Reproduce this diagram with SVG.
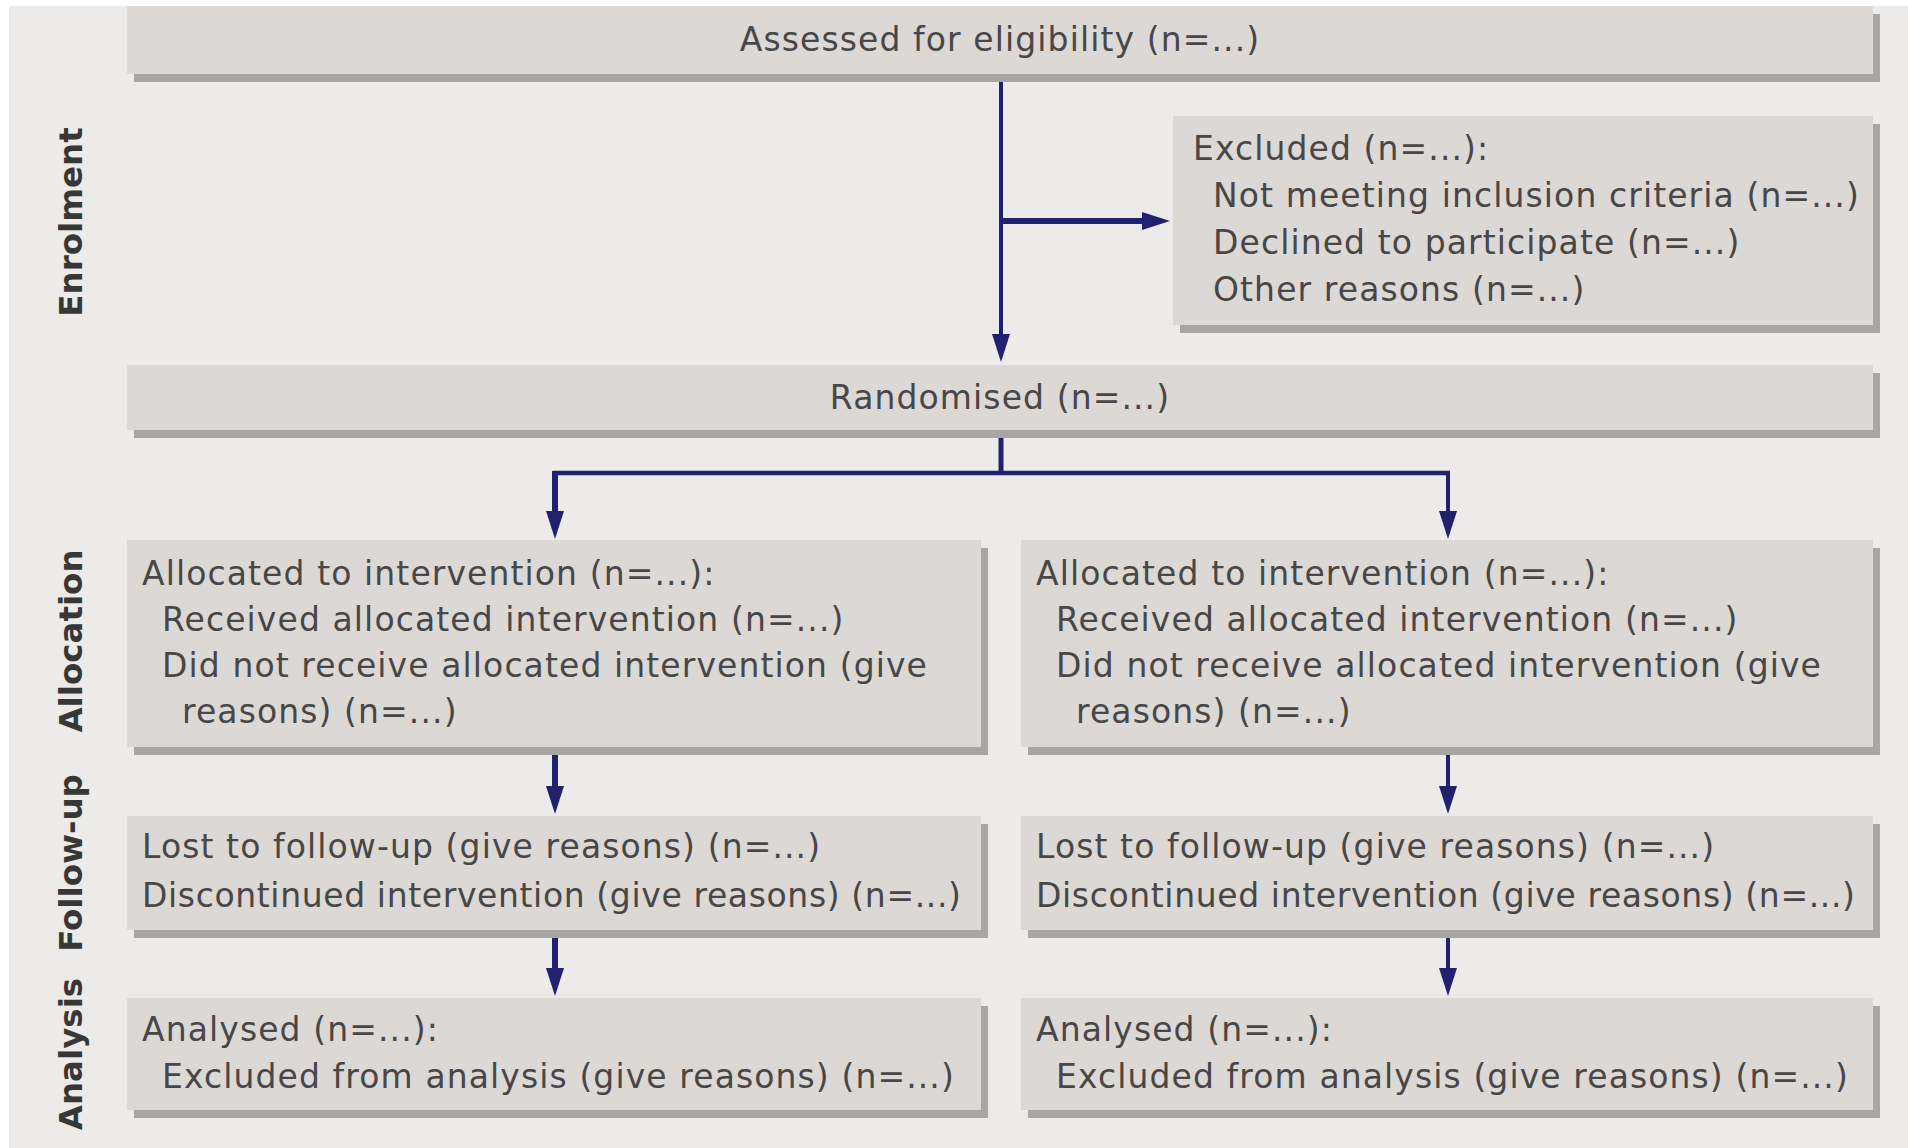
<svg xmlns="http://www.w3.org/2000/svg" width="1908" height="1148" viewBox="0 0 1908 1148">
  <defs>
    <style>
      .bg { fill: #ecebe9; }
      .box { fill: #dbd8d6; }
      .shadow { fill: #a8a6a4; }
      .t { font-family: "DejaVu Sans", Verdana, sans-serif; font-size: 33px; fill: #484646; letter-spacing: 1.1px; }
      .c { text-anchor: middle; }
      .lbl { font-family: "DejaVu Sans", Verdana, sans-serif; font-weight: bold; font-size: 32.5px; fill: #383737; text-anchor: middle; }
      .ln { fill: none; stroke: #22216f; stroke-linecap: butt; }
    </style>
    <marker id="ah" markerUnits="userSpaceOnUse" markerWidth="30" markerHeight="20" refX="2" refY="9" orient="auto">
      <path d="M0,0 L28,9 L0,18 Z" fill="#22216f"/>
    </marker>
  </defs>

  <rect x="0" y="0" width="1908" height="1148" fill="#ffffff"/>
  <rect class="bg" x="9" y="6" width="1899" height="1142"/>

  <!-- stage labels -->
  <g id="stage-labels">
    <text class="lbl" transform="translate(82,222) rotate(-90)">Enrolment</text>
    <text class="lbl" transform="translate(82,641) rotate(-90)">Allocation</text>
    <text class="lbl" transform="translate(82,863) rotate(-90)">Follow-up</text>
    <text class="lbl" transform="translate(82,1054) rotate(-90)">Analysis</text>
  </g>

  <!-- connectors -->
  <g id="connectors">
    <path class="ln" stroke-width="4" d="M1001,74 V336" marker-end="url(#ah)"/>
    <path class="ln" stroke-width="6" d="M1001,221 H1144" marker-end="url(#ah)"/>
    <path class="ln" stroke-width="5" d="M1001,430 V473"/>
    <path class="ln" stroke-width="4.5" d="M553,473 H1450"/>
    <path class="ln" stroke-width="6" d="M555,471 V513" marker-end="url(#ah)"/>
    <path class="ln" stroke-width="4" d="M1448,471 V513" marker-end="url(#ah)"/>
    <path class="ln" stroke-width="6" d="M555,747 V788" marker-end="url(#ah)"/>
    <path class="ln" stroke-width="4" d="M1448,747 V788" marker-end="url(#ah)"/>
    <path class="ln" stroke-width="6" d="M555,930 V970" marker-end="url(#ah)"/>
    <path class="ln" stroke-width="4" d="M1448,930 V970" marker-end="url(#ah)"/>
  </g>

  <g id="assessed">
    <rect class="shadow" x="134" y="14" width="1746" height="68"/>
    <rect class="box" x="127" y="6" width="1746" height="68"/>
    <text class="t c" x="1000" y="51">Assessed for eligibility (n=...)</text>
  </g>

  <g id="excluded">
    <rect class="shadow" x="1180" y="124" width="700" height="209"/>
    <rect class="box" x="1173" y="116" width="700" height="209"/>
    <text class="t" x="1193" y="160">Excluded (n=...):</text>
    <text class="t" x="1213" y="207">Not meeting inclusion criteria (n=...)</text>
    <text class="t" x="1213" y="254">Declined to participate (n=...)</text>
    <text class="t" x="1213" y="301">Other reasons (n=...)</text>
  </g>

  <g id="randomised">
    <rect class="shadow" x="134" y="373" width="1746" height="65"/>
    <rect class="box" x="127" y="365" width="1746" height="65"/>
    <text class="t c" x="1000" y="409">Randomised (n=...)</text>
  </g>

  <g id="alloc-left">
    <rect class="shadow" x="134" y="548" width="854" height="207"/>
    <rect class="box" x="127" y="540" width="854" height="207"/>
    <text class="t" x="142" y="585">Allocated to intervention (n=...):</text>
    <text class="t" x="162" y="631">Received allocated intervention (n=...)</text>
    <text class="t" x="162" y="677">Did not receive allocated intervention (give</text>
    <text class="t" x="182" y="723">reasons) (n=...)</text>
  </g>

  <g id="alloc-right">
    <rect class="shadow" x="1028" y="548" width="852" height="207"/>
    <rect class="box" x="1021" y="540" width="852" height="207"/>
    <text class="t" x="1036" y="585">Allocated to intervention (n=...):</text>
    <text class="t" x="1056" y="631">Received allocated intervention (n=...)</text>
    <text class="t" x="1056" y="677">Did not receive allocated intervention (give</text>
    <text class="t" x="1076" y="723">reasons) (n=...)</text>
  </g>

  <g id="followup-left">
    <rect class="shadow" x="134" y="824" width="854" height="114"/>
    <rect class="box" x="127" y="816" width="854" height="114"/>
    <text class="t" x="142" y="858">Lost to follow-up (give reasons) (n=...)</text>
    <text class="t" x="142" y="907" textLength="820" lengthAdjust="spacing">Discontinued intervention (give reasons) (n=...)</text>
  </g>

  <g id="followup-right">
    <rect class="shadow" x="1028" y="824" width="852" height="114"/>
    <rect class="box" x="1021" y="816" width="852" height="114"/>
    <text class="t" x="1036" y="858">Lost to follow-up (give reasons) (n=...)</text>
    <text class="t" x="1036" y="907" textLength="820" lengthAdjust="spacing">Discontinued intervention (give reasons) (n=...)</text>
  </g>

  <g id="analysis-left">
    <rect class="shadow" x="134" y="1006" width="854" height="112"/>
    <rect class="box" x="127" y="998" width="854" height="112"/>
    <text class="t" x="142" y="1041">Analysed (n=...):</text>
    <text class="t" x="162" y="1088">Excluded from analysis (give reasons) (n=...)</text>
  </g>

  <g id="analysis-right">
    <rect class="shadow" x="1028" y="1006" width="852" height="112"/>
    <rect class="box" x="1021" y="998" width="852" height="112"/>
    <text class="t" x="1036" y="1041">Analysed (n=...):</text>
    <text class="t" x="1056" y="1088">Excluded from analysis (give reasons) (n=...)</text>
  </g>
</svg>
